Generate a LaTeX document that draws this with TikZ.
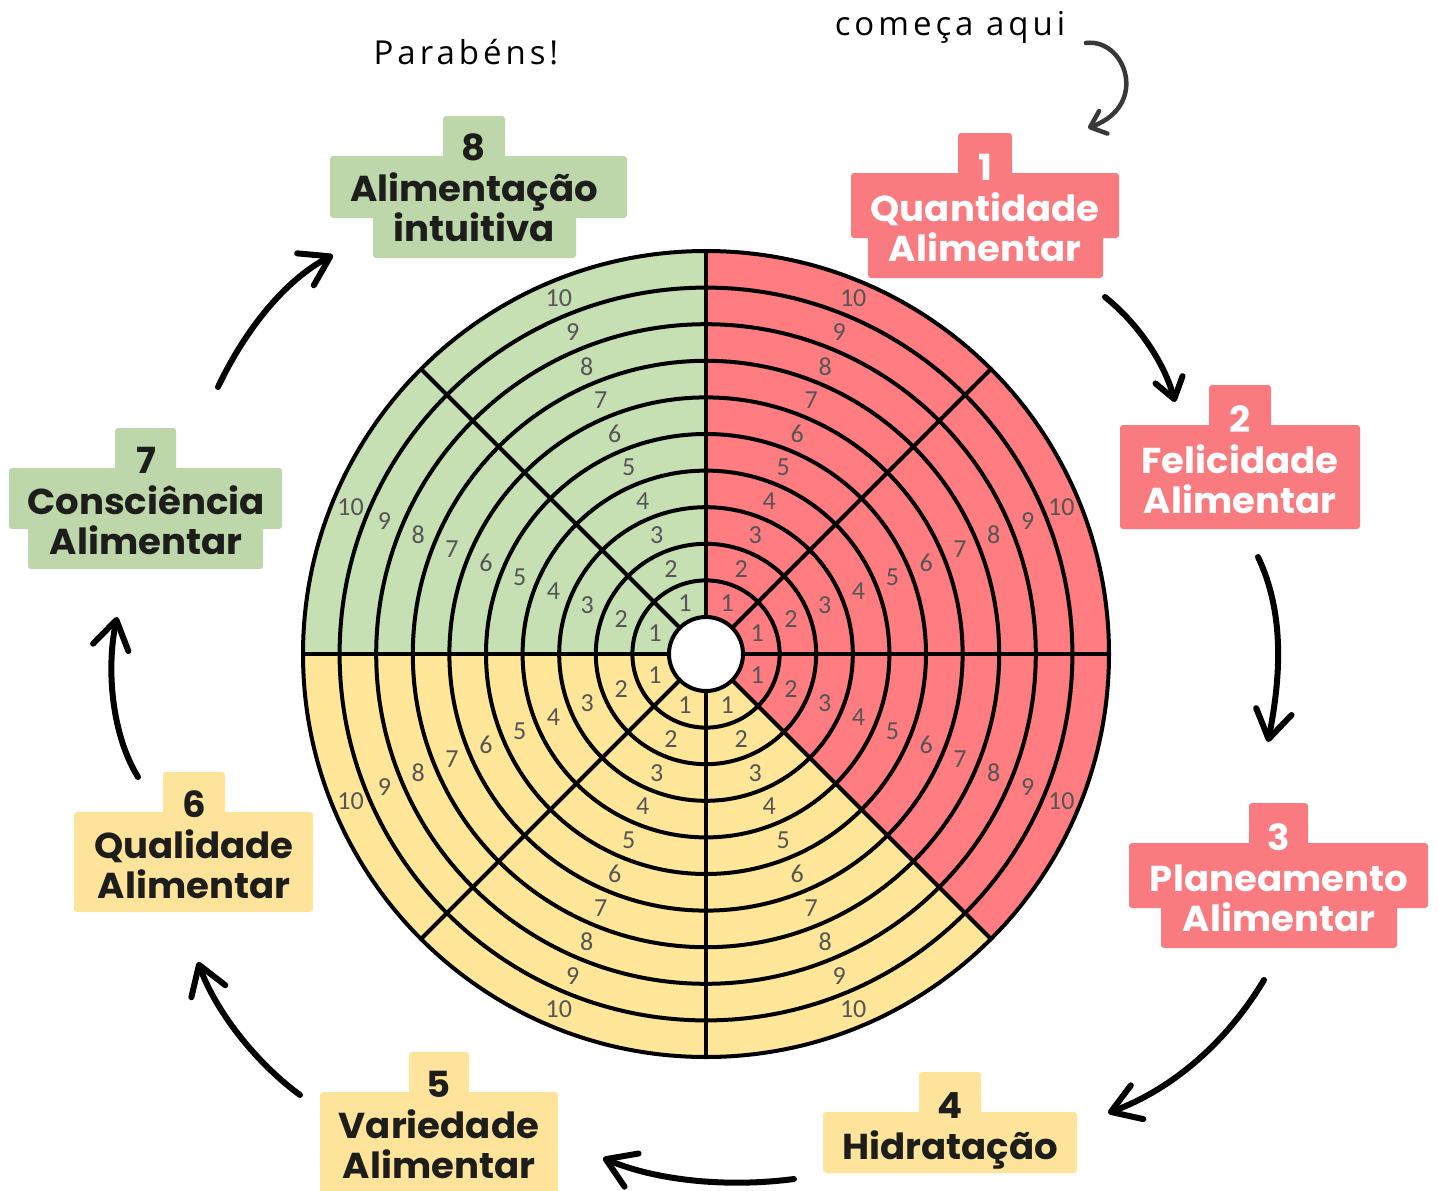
\documentclass[tikz,border=0pt]{standalone}
\usepackage{fontspec}
\setmainfont{Poppins}[FakeStretch=1.03]
\newfontfamily\numfont{Carlito}
\newfontfamily\handfont{Open Sans}[LetterSpace=12]
\usetikzlibrary{arrows.meta}
\definecolor{wred}{HTML}{FF7C80}
\definecolor{wyellow}{HTML}{FFE699}
\definecolor{wgreen}{HTML}{C6E0B4}
\definecolor{bred}{HTML}{F97B80}
\definecolor{byellow}{HTML}{FEE49B}
\definecolor{bgreen}{HTML}{BDD6AA}
\definecolor{tdark}{HTML}{1D1D1B}
\definecolor{ngray}{HTML}{555555}
\definecolor{hgray}{HTML}{383838}
\begin{document}
\begin{tikzpicture}[x=1pt,y=-1pt,
  wline/.style={line width=4pt,black},
  wnum/.style={font=\numfont\fontsize{26}{26}\selectfont,text=ngray,inner sep=0pt},
  boxbg/.style={rounded corners=3pt},
  lbl/.style={font=\fontsize{36}{40}\selectfont\bfseries,anchor=base,inner sep=0pt},
  hand/.style={font=\handfont\fontsize{33}{36}\selectfont,inner sep=0pt},
  flow/.style={line width=6pt,line cap=round,line join=round,black},
  bighead/.style={-{Straight Barb[length=28pt,width=36pt,round]}},
]
\useasboundingbox (0,0) rectangle (1438,1191);

% ---------------- wheel ----------------
\begin{scope}[shift={(706,654)},yscale=-1]
  \fill[wred] (0,0) -- (-45:403) arc[start angle=-45,end angle=90,radius=403] -- cycle;
  \fill[wyellow] (0,0) -- (-180:403) arc[start angle=-180,end angle=-45,radius=403] -- cycle;
  \fill[wgreen] (0,0) -- (90:403) arc[start angle=90,end angle=180,radius=403] -- cycle;
  \fill[white] (0,0) circle[radius=37];
  \foreach \k in {0,...,10} \draw[wline] (0,0) circle[radius={37+36.6*\k}];
  \foreach \a in {0,45,...,315} \draw[wline] (\a:37) -- (\a:403);
  \foreach \s in {0,...,7} \foreach \i in {1,...,10}
    \node[wnum] (w-\s-\i) at ({67.5-45*\s}:{37+36.6*(\i-0.5)}) {\i};
\end{scope}

% ---------------- label boxes ----------------
% 1
\fill[bred,boxbg] (958,133) rectangle (1012,176);
\fill[bred,boxbg] (851,173) rectangle (1119,238);
\fill[bred,boxbg] (868,235) rectangle (1103,278);
\node[lbl,text=white] (b1n) at (985,180) {1};
\node[lbl,text=white] (b1a) at (985,221) {Quantidade};
\node[lbl,text=white] (b1b) at (985,261) {Alimentar};
% 2
\fill[bred,boxbg] (1209,385) rectangle (1271,428);
\fill[bred,boxbg] (1120,425) rectangle (1360,529);
\node[lbl,text=white] (b2n) at (1240,432) {2};
\node[lbl,text=white] (b2a) at (1240,473) {Felicidade};
\node[lbl,text=white] (b2b) at (1240,513) {Alimentar};
% 3
\fill[bred,boxbg] (1249,803) rectangle (1308,846);
\fill[bred,boxbg] (1129,843) rectangle (1428,908);
\fill[bred,boxbg] (1161,905) rectangle (1397,948);
\node[lbl,text=white] (b3n) at (1279,850) {3};
\node[lbl,text=white] (b3a) at (1279,891) {Planeamento};
\node[lbl,text=white] (b3b) at (1279,931) {Alimentar};
% 4
\fill[byellow,boxbg] (919,1072) rectangle (981,1115);
\fill[byellow,boxbg] (823,1112) rectangle (1077,1173);
\node[lbl,text=tdark] (b4n) at (950,1118) {4};
\node[lbl,text=tdark] (b4a) at (950,1159) {Hidratação};
% 5
\fill[byellow,boxbg] (409,1052) rectangle (469,1095);
\fill[byellow,boxbg] (320,1092) rectangle (558,1196);
\node[lbl,text=tdark] (b5n) at (439,1097) {5};
\node[lbl,text=tdark] (b5a) at (439,1138) {Variedade};
\node[lbl,text=tdark] (b5b) at (439,1178) {Alimentar};
% 6
\fill[byellow,boxbg] (163,772) rectangle (225,815);
\fill[byellow,boxbg] (74,812) rectangle (313,912);
\node[lbl,text=tdark] (b6n) at (194,817) {6};
\node[lbl,text=tdark] (b6a) at (194,858) {Qualidade};
\node[lbl,text=tdark] (b6b) at (194,898) {Alimentar};
% 7
\fill[bgreen,boxbg] (115,428) rectangle (176,471);
\fill[bgreen,boxbg] (9,468) rectangle (282,529);
\fill[bgreen,boxbg] (28,526) rectangle (263,569);
\node[lbl,text=tdark] (b7n) at (146,473) {7};
\node[lbl,text=tdark] (b7a) at (146,514) {Consciência};
\node[lbl,text=tdark] (b7b) at (146,554) {Alimentar};
% 8
\fill[bgreen,boxbg] (443,116) rectangle (505,159);
\fill[bgreen,boxbg] (330,156) rectangle (627,218);
\fill[bgreen,boxbg] (373,215) rectangle (576,258);
\node[lbl,text=tdark] (b8n) at (474,160) {8};
\node[lbl,text=tdark] (b8a) at (474,201) {Alimentação};
\node[lbl,text=tdark] (b8b) at (474,241) {intuitiva};

% ---------------- handwritten notes ----------------
\node[hand] (parabens) at (466,52) {Parabéns!};
\node[hand] (comeca) at (950,27) {começa aqui};

% ---------------- arrows ----------------
\coordinate (a0s) at (1086,43);  \coordinate (a0e) at (1088,128);
\coordinate (a1s) at (1105,297); \coordinate (a1e) at (1175,402);
\coordinate (a2s) at (1258,557); \coordinate (a2e) at (1268,742);
\coordinate (a3s) at (1264,980); \coordinate (a3e) at (1108,1113);
\coordinate (a4s) at (794,1179); \coordinate (a4e) at (603,1158);
\coordinate (a5s) at (300,1095); \coordinate (a5e) at (198,962);
\coordinate (a6s) at (138,777);  \coordinate (a6e) at (117,617);
\coordinate (a7s) at (218,387);  \coordinate (a7e) at (333,255);

\draw[flow,hgray,line width=4.5pt,-{Straight Barb[length=14pt,width=24pt,round]}]
  (a0s) .. controls (1125,38) and (1150,105) .. (a0e);
\draw[flow,-{Straight Barb[length=20pt,width=28pt,round]}]
  (a1s) .. controls (1140,325) and (1165,365) .. (a1e);
\draw[flow,bighead] (a2s) .. controls (1288,620) and (1278,690) .. (a2e);
\draw[flow,bighead] (a3s) .. controls (1225,1045) and (1170,1090) .. (a3e);
\draw[flow,bighead] (a4s) .. controls (725,1188) and (655,1180) .. (a4e);
\draw[flow,bighead] (a5s) .. controls (255,1062) and (215,1010) .. (a5e);
\draw[flow,bighead] (a6s) .. controls (112,735) and (106,670) .. (a6e);
\draw[flow,bighead] (a7s) .. controls (245,330) and (285,280) .. (a7e);
\end{tikzpicture}
\end{document}
